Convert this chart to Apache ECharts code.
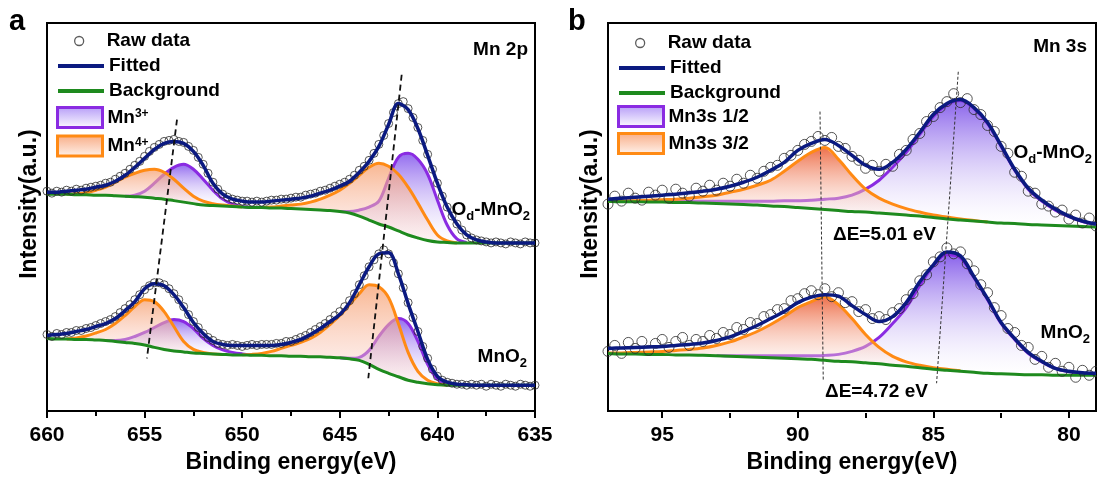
<!DOCTYPE html>
<html><head><meta charset="utf-8">
<script src="https://cdn.jsdelivr.net/npm/echarts@6/dist/echarts.min.js"></script>
<style>html,body{margin:0;padding:0;background:#fff}#c{width:1097px;height:479px}</style>
</head><body><div id="c"></div>
<script>
const FONT = 'Liberation Sans, Arial, Helvetica, sans-serif';

// ---------------- Panel a : Mn 2p ----------------
const eA = [660,659.5,659,658.5,658,657.5,657,656.5,656,655.5,655,654.5,654,653.5,653,652.5,652,651.5,651,650.5,650,649.5,649,648.5,648,647.5,647,646.5,646,645.5,645,644.5,644,643.5,643,642.5,642,641.5,641,640.5,640,639.5,639,638.5,638,637.5,637,636.5,636,635.5,635];
const fitA_Od = [220,220,221,222,223,225,227,231,237,245,254,263,269,271,269,261,247,229,218,213,211,210,210,211,212,213,214,216,219,222,226,231,240,251,266,288,309,303,284,257,229,205,188,177,172,170,169,169,169,169,169];
const bgA_Od = [218,218,218,217.5,217.5,217,217,216.5,216,215.5,215,214,213,211.5,210,208.5,207,206.5,206,205.5,205,204.5,204.5,204,204,203.5,203,202.5,202,201.5,200.5,199,196,192,188,185,181,177,174,171.5,170,169.5,169,169,169,169,169,169,169,169,169];
const fitA_Mn = [76,77,78,80,82,85,88,93,101,110,123,128,126,117,104,89,78,70,67,66,66,66,66,66,67,69,72,77,83,90,97,109,127,145,158,159,138,108,80,52,35,29,27,26.5,26,26,26,26,26,26,26];
const bgA_Mn = [73,72.5,72.5,72,72,71.5,71,70,69,68,66.5,64,62,60.5,59.5,58.5,58,57.5,57,56.5,56.5,56,56,55.5,55.5,55,55,54.5,54.5,54,53.5,52.5,51,47,42,38,34.5,31,29,27.5,26.5,26,26,26,26,26,26,26,26,26,26];

const mn3A_Od_32_E = [645,644.5,644,643.5,643,642.5,642,641.5,641,640.5,640,639.5,639,638.5];
const mn3A_Od_32 = [200.5,200.5,202,205,211,234,255,259,253,238,212,187,173,169.5];
const mn4A_Od_32_E = [649,648.5,648,647.5,647,646.5,646,645.5,645,644.5,644,643.5,643,642.5,642,641.5,641,640.5,640,639.5,639];
const mn4A_Od_32 = [204.5,205,206,207,208,210,213,217,222,229,237,245,249,246,238,225,209,192,177,171,169];
const mn3A_Od_12_E = [656,655.5,655,654.5,654,653.5,653,652.5,652,651.5,651,650.5,650,649.5];
const mn3A_Od_12 = [216,217,221,229,238,245,248,243,233,222,213,208,205.5,204.5];
const mn4A_Od_12_E = [659,658.5,658,657.5,657,656.5,656,655.5,655,654.5,654,653.5,653,652.5,652,651.5,651,650.5,650];
const mn4A_Od_12 = [218,218.5,219.5,222,225,230,235,239,242,243,240,233,224,216,211,208.5,207,206,205];

const mn4A_Mn_12_E = [659,658.5,658,657.5,657,656.5,656,655.5,655,654.5,654,653.5,653,652.5,652,651.5,651];
const mn4A_Mn_12 = [72.5,73.5,75.5,78.5,82,88,96,105,112,110,100,85,70,62,59,57.5,57];
const mn3A_Mn_12_E = [657,656.5,656,655.5,655,654.5,654,653.5,653,652.5,652,651.5,651,650.5,650,649.5];
const mn3A_Mn_12 = [71,71,72,75,79,84,89,92,90,83,73,66,61.5,59,57.5,56.5];
const mn4A_Mn_32_E = [650,649.5,649,648.5,648,647.5,647,646.5,646,645.5,645,644.5,644,643.5,643,642.5,642,641.5,641,640.5,640,639.5];
const mn4A_Mn_32 = [56.5,57,58,60,63,66,69,73,79,87,96,107,118,127,125,114,88,59,40,31,27.5,26];
const mn3A_Mn_32_E = [645,644.5,644,643.5,643,642.5,642,641.5,641,640.5,640,639.5,639];
const mn3A_Mn_32 = [53.5,53,54,61,75,87,93,88,70,47,32,27,26];

const rawA_start = 660, rawA_step = 0.25;
const rawA_Od = [221,219,221,220,222,221,223,222,224,225,226,227,229,230,233,236,239,243,247,251,256,261,265,268,271,272,273,271,270,266,262,255,248,239,230,223,218,215,213,212,211,211,210,211,210,211,212,212,213,213,214,215,215,217,218,219,221,222,224,226,228,230,233,237,242,246,252,259,268,277,289,300,309,311,304,295,285,272,258,243,229,216,205,196,188,182,177,174,172,171,170,169,170,169,168,170,169,168,170,169,169];
const rawA_Mn = [77,75,78,77,79,79,81,81,83,84,86,88,90,92,95,99,103,107,112,117,122,126,129,129,127,123,118,112,105,97,90,84,78,74,71,68,67,66,67,66,65,66,67,66,67,67,67,68,68,70,70,72,74,76,79,82,85,88,92,96,100,105,111,118,127,136,145,152,158,162,158,149,138,124,109,94,80,65,53,42,35,31,29,28,27,27,26,27,26,27,25,27,26,25,27,26,25,27,26,25,26];

const guideA1 = [[653.34,293],[654.88,53]];
const guideA2 = [[641.83,338],[643.54,33]];

// ---------------- Panel b : Mn 3s ----------------
const eB = [97,96.5,96,95.5,95,94.5,94,93.5,93,92.5,92,91.5,91,90.5,90,89.5,89,88.5,88,87.5,87,86.5,86,85.5,85,84.5,84,83.5,83,82.5,82,81.5,81,80.5,80,79.5,79];
const fitB_Od = [213,214,215,216,217,218,219.5,221,223,226,230,235,242,250,262,269,273,267,257,247,243,250,263,280,298,309,313,305,290,267,243,224,212,203,196,191,188];
const bgB_Od = [211,210.5,210.5,210,210,209.5,209.5,209,208.5,208,207.5,207,206,205.5,204.5,203.5,202.5,201.5,200.5,200,199,198,197,196,194.5,193,192,191,190,189,188.5,187.5,187,186.5,186,185.5,185];
const fitB_Mn = [63,63.5,64,64.5,65,66,67,68.5,71,74.5,80,86,93,100,109,114.5,117,115.5,106,97,90,95,109,130,147,160,156,135,113,89,73,59,50,43,40,38.5,38];
const bgB_Mn = [58,57.5,57.5,57,57,56.5,56.5,56,55.5,55,54.5,54,53.5,53,52.5,52,51,50,49.5,48.5,47.5,46,45,43.5,42,41,40,39,38,37.5,37,36.5,36.5,36,36,36,36];

const s32B_Od_E = [97,96.5,96,95.5,95,94.5,94,93.5,93,92.5,92,91.5,91,90.5,90,89.5,89,88.5,88,87.5,87,86.5,86,85.5,85,84.5,84,83.5,83];
const s32B_Od = [211,211,211.5,212,212.5,213,214,215.5,217,220,223,227,232,241,251,260,265,253,237,223,214,208,203.5,200,197,195,193,191.5,190];
const s12B_Od_E = [95,94.5,94,93.5,93,92.5,92,91.5,91,90.5,90,89.5,89,88.5,88,87.5,87,86.5,86,85.5,85,84.5,84,83.5,83,82.5,82,81.5,81,80.5,80,79.5,79];
const s12B_Od = [210.5,211,211,211,211,211,211,211,211,211.5,211.5,212,213,214,217,223,232,245,260,278,296,308,312,304,289,266,242,223,211,202,195.5,190.5,187.5];
const s32B_Mn_E = [97,96.5,96,95.5,95,94.5,94,93.5,93,92.5,92,91.5,91,90.5,90,89.5,89,88.5,88,87.5,87,86.5,86,85.5,85,84.5,84];
const s32B_Mn = [58.5,58.5,59,59.5,60,61,62,63.5,66,69.5,74.5,80,87,95,104,110,115,107,93,77,64,55,49.5,46,43.5,42,40.5];
const s12B_Mn_E = [93,92.5,92,91.5,91,90.5,90,89.5,89,88.5,88,87.5,87,86.5,86,85.5,85,84.5,84,83.5,83,82.5,82,81.5,81,80.5,80,79.5,79];
const s12B_Mn = [56,55.5,55.5,55.5,55.5,55.5,55.5,55.5,56,57,60,65,74,88,104,126,146,157,154,134,112,88,72,58,49.5,43,39.5,38,37];

const rawB_start = 97, rawB_step = 0.25;
const rawB_Od = [208,216,211,219,214,212,220,217,222,214,223,219,216,224,221,227,222,229,226,233,229,237,234,241,245,247,254,257,262,268,271,276,272,275,266,264,256,252,244,247,241,248,246,258,262,273,279,291,296,305,311,319,310,314,303,298,287,281,266,259,240,236,221,219,208,206,200,202,193,197,189,194,186];
const rawB_Mn = [60,66,58,69,63,70,61,68,72,64,70,74,66,72,70,76,73,79,77,84,82,89,88,95,97,102,103,111,113,118,121,117,123,115,119,109,110,100,102,93,95,92,99,103,112,118,131,137,150,155,164,158,160,148,141,127,119,104,96,83,79,66,64,52,55,44,48,40,44,34,41,36,40];

const guideB1 = [[89.18,301],[89.06,30]];
const guideB2 = [[84.08,341],[84.88,28]];

const ticksB = [80,85,90,95];
const minorTicksB = [82.5,87.5,92.5];

// ---------------- styles ----------------
const C_FIT = '#0b1a80', C_BG = '#1e8a1e', C_PUR = '#8a2be2', C_ORG = '#ff8a14';
const LG = (stops) => new echarts.graphic.LinearGradient(0,0,0,1, stops.map((c,i)=>({offset:i/(stops.length-1), color:c})));
const gradPurA = ['rgba(128,82,236,0.85)','rgba(255,255,255,0.25)'];
const gradOrgA = ['rgba(246,158,108,0.75)','rgba(252,220,220,0.3)'];
const gradPurB = ['rgba(122,78,232,0.88)','rgba(255,255,255,0.2)'];
const gradOrgB = ['rgba(236,100,60,0.92)','rgba(255,245,240,0.25)'];

function rawPts(start, step, vals){ return vals.map((v,i)=>[start - i*step, v]); }
function pairs(E, V){ return E.map((e,i)=>[e, V[i]]); }

function lineS(name, ax, E, V, color, width, z){
  return {type:'line', name, xAxisIndex:ax, yAxisIndex:ax, data:pairs(E,V), smooth:0.35, symbol:'none',
    lineStyle:{color, width}, itemStyle:{color}, z, silent:true, animation:false};
}
function fillS(name, ax, E, V, bgE, bgV, stops, z){
  const data = E.map((e,i)=>[e, V[i], bgV[bgE.indexOf(e)]]);
  const grad = LG(stops);
  return {type:'custom', name, xAxisIndex:ax, yAxisIndex:ax, z, silent:true, animation:false,
    data, encode:{x:0, y:[1,2]},
    renderItem(params, api){
      if (params.dataIndexInside !== 0) return null;
      const n = params.dataInsideLength, top = [], bot = [];
      for (let i=0;i<n;i++){
        top.push(api.coord([api.value(0,i), api.value(1,i)]));
        bot.push(api.coord([api.value(0,i), api.value(2,i)]));
      }
      return {type:'polygon', shape:{points: top.concat(bot.reverse())}, style:{fill:grad}};
    }};
}
function comp(name, ax, E, V, bgE, bgV, color, stops, z){
  return [fillS(name, ax, E, V, bgE, bgV, stops, z), lineS(name, ax, E, V, color, 3, z+0.1)];
}
function rawS(ax, pts, size){
  return {type:'scatter', name:'Raw data', xAxisIndex:ax, yAxisIndex:ax, data:pts, symbol:'circle', symbolSize:size,
    itemStyle:{color:'rgba(255,255,255,0)', borderColor:'#2a2a2a', borderWidth:1}, z:4, silent:true, animation:false};
}
function guideS(ax, pts, width, dash, color){
  return {type:'line', xAxisIndex:ax, yAxisIndex:ax, data:pts, symbol:'none', silent:true, animation:false,
    lineStyle:{color, width, type:dash}, z:6};
}

const series = [].concat(
  // panel a
  comp('Mn3+',0,mn3A_Od_12_E,mn3A_Od_12,eA,bgA_Od,C_PUR,gradPurA,1),
  comp('Mn3+',0,mn3A_Od_32_E,mn3A_Od_32,eA,bgA_Od,C_PUR,gradPurA,1),
  comp('Mn3+',0,mn3A_Mn_12_E,mn3A_Mn_12,eA,bgA_Mn,C_PUR,gradPurA,1),
  comp('Mn3+',0,mn3A_Mn_32_E,mn3A_Mn_32,eA,bgA_Mn,C_PUR,gradPurA,1),
  comp('Mn4+',0,mn4A_Od_12_E,mn4A_Od_12,eA,bgA_Od,C_ORG,gradOrgA,2),
  comp('Mn4+',0,mn4A_Od_32_E,mn4A_Od_32,eA,bgA_Od,C_ORG,gradOrgA,2),
  comp('Mn4+',0,mn4A_Mn_12_E,mn4A_Mn_12,eA,bgA_Mn,C_ORG,gradOrgA,2),
  comp('Mn4+',0,mn4A_Mn_32_E,mn4A_Mn_32,eA,bgA_Mn,C_ORG,gradOrgA,2),
  [lineS('Background',0,eA,bgA_Od,C_BG,3,3), lineS('Background',0,eA,bgA_Mn,C_BG,3,3)],
  [rawS(0, rawPts(rawA_start, rawA_step, rawA_Od), 8), rawS(0, rawPts(rawA_start, rawA_step, rawA_Mn), 8)],
  [lineS('Fitted',0,eA,fitA_Od,C_FIT,3.5,5), lineS('Fitted',0,eA,fitA_Mn,C_FIT,3.5,5)],
  [guideS(0,guideA1,1.8,[6,4],'#111'), guideS(0,guideA2,1.8,[6,4],'#111')],
  // panel b
  comp('Mn3s 1/2',1,s12B_Od_E,s12B_Od,eB,bgB_Od,C_PUR,gradPurB,1),
  comp('Mn3s 1/2',1,s12B_Mn_E,s12B_Mn,eB,bgB_Mn,C_PUR,gradPurB,1),
  comp('Mn3s 3/2',1,s32B_Od_E,s32B_Od,eB,bgB_Od,C_ORG,gradOrgB,2),
  comp('Mn3s 3/2',1,s32B_Mn_E,s32B_Mn,eB,bgB_Mn,C_ORG,gradOrgB,2),
  [lineS('Background',1,eB,bgB_Od,C_BG,3,3), lineS('Background',1,eB,bgB_Mn,C_BG,3,3)],
  [rawS(1, rawPts(rawB_start, rawB_step, rawB_Od), 10), rawS(1, rawPts(rawB_start, rawB_step, rawB_Mn), 10)],
  [lineS('Fitted',1,eB,fitB_Od,C_FIT,3.5,5), lineS('Fitted',1,eB,fitB_Mn,C_FIT,3.5,5)],
  [guideS(1,guideB1,1,[3,2],'#333'), guideS(1,guideB2,1,[3,2],'#333')]
);

const axLine = {show:true, lineStyle:{color:'#000', width:2}};
const tickStyle = {color:'#000', width:2};
const labelStyle = {fontSize:21, fontWeight:'bold', color:'#000', fontFamily:FONT, margin:14};
const nameStyle = {fontSize:23, fontWeight:'bold', color:'#000', fontFamily:FONT};

const legText = {fontSize:19, fontWeight:'bold', color:'#000', fontFamily:FONT,
  rich:{sup:{fontSize:12, fontWeight:'bold', fontFamily:FONT, color:'#000', verticalAlign:'top', lineHeight:12}}};
function legends(left, cRaw, cLine, topRect, gapRect, n3, n4, supFmt){
  return [
    {data:[{name:'Raw data', icon:'circle', itemStyle:{color:'rgba(0,0,0,0)', borderColor:'#333', borderWidth:1.3}}],
     left:left+18, top:cRaw-9.5, padding:0, orient:'vertical', itemWidth:9, itemHeight:9,
     textStyle:Object.assign({padding:[0,0,0,18]}, legText), selectedMode:false},
    {data:['Fitted','Background'], left, top:cLine-9.5, padding:0, orient:'vertical', itemWidth:46, itemHeight:4, itemGap:6,
     lineStyle:{width:4}, textStyle:legText, selectedMode:false},
    {data:[{name:n3, icon:'rect', itemStyle:{color:LG(['#b49af7','#ffffff']), borderColor:C_PUR, borderWidth:3}},
           {name:n4, icon:'rect', itemStyle:{color:LG(['#f8ab84','#fff4ee']), borderColor:C_ORG, borderWidth:3}}],
     left, top:topRect, padding:0, orient:'vertical', itemWidth:45, itemHeight:20, itemGap:gapRect, textStyle:legText,
     selectedMode:false, formatter: supFmt}
  ];
}

const richLbl = {m:{fontSize:19, fontWeight:'bold', fontFamily:FONT, fill:'#000', lineHeight:20, verticalAlign:'top'},
                 s:{fontSize:13, fontWeight:'bold', fontFamily:FONT, fill:'#000', lineHeight:14, padding:[10,0,0,0], verticalAlign:'top'}};
function txt(x, y, text, align, size){
  return {type:'text', x, y, silent:true, style:{text, fontSize:size||19, fontWeight:'bold', fontFamily:FONT, fill:'#000', align:align||'right', verticalAlign:'middle'}};
}
function rtxt(x, y, text){
  return {type:'text', x, y, silent:true, style:{text, rich:richLbl, fontSize:19, fontWeight:'bold', fontFamily:FONT, fill:'#000', align:'right', verticalAlign:'middle'}};
}

const option = {
  animation:false,
  backgroundColor:'#fff',
  textStyle:{fontFamily:FONT},
  grid:[
    {left:47, top:23, width:488, height:390, show:true, borderColor:'#000', borderWidth:2, backgroundColor:'rgba(0,0,0,0)'},
    {left:608, top:23, width:488, height:390, show:true, borderColor:'#000', borderWidth:2, backgroundColor:'rgba(0,0,0,0)'},
    {left:608, top:23, width:488, height:390, show:false}
  ],
  xAxis:[
    {gridIndex:0, type:'value', position:'bottom', min:635, max:660, interval:5, inverse:true, axisLine:axLine,
     axisTick:{show:true, length:7, lineStyle:tickStyle}, minorTick:{show:true, splitNumber:2, length:5, lineStyle:tickStyle},
     splitLine:{show:false}, minorSplitLine:{show:false}, axisLabel:labelStyle,
     name:'Binding energy(eV)', nameLocation:'middle', nameGap:39, nameTextStyle:nameStyle},
    {gridIndex:1, type:'value', position:'bottom', min:79, max:97, inverse:true, axisLine:axLine,
     axisTick:{show:true, length:7, lineStyle:tickStyle, customValues:ticksB},
     splitLine:{show:false}, axisLabel:Object.assign({customValues:ticksB}, labelStyle),
     name:'Binding energy(eV)', nameLocation:'middle', nameGap:39, nameTextStyle:nameStyle},
    {gridIndex:2, type:'value', position:'bottom', min:79, max:97, inverse:true, axisLine:{show:false},
     axisTick:{show:true, length:5, lineStyle:tickStyle, customValues:minorTicksB},
     splitLine:{show:false}, axisLabel:{show:false}}
  ],
  yAxis:[0,1].map(g=>({gridIndex:g, type:'value', min:0, max:390, axisLine:axLine, axisTick:{show:false},
     axisLabel:{show:false}, splitLine:{show:false},
     name:'Intensity(a.u.)', nameLocation:'middle', nameGap:6, nameTextStyle:Object.assign({padding:[0,0,0,26]}, nameStyle)}))
     .concat([{gridIndex:2, type:'value', min:0, max:390, show:false}]),
  legend:[].concat(
    legends(56, 41, 66, 106, 5.5, 'Mn3+', 'Mn4+', n => n==='Mn3+' ? 'Mn{sup|3+}' : 'Mn{sup|4+}'),
    legends(617, 43, 68, 105, 4, 'Mn3s 1/2', 'Mn3s 3/2', n => n)
  ),
  graphic:[
    txt(9, 22, 'a', 'left', 29),
    txt(568, 22, 'b', 'left', 29),
    txt(528, 50, 'Mn 2p'),
    txt(1087, 47, 'Mn 3s'),
    rtxt(530, 210, '{m|O}{s|d}{m|-MnO}{s|2}'),
    rtxt(527, 357, '{m|MnO}{s|2}'),
    rtxt(1092, 153, '{m|O}{s|d}{m|-MnO}{s|2}'),
    rtxt(1090, 333, '{m|MnO}{s|2}'),
    txt(833, 235, 'ΔE=5.01 eV', 'left'),
    txt(825, 392, 'ΔE=4.72 eV', 'left')
  ],
  series
};
const chart = echarts.init(document.getElementById('c'), null, {renderer:'canvas'});
chart.setOption(option);
</script></body></html>
